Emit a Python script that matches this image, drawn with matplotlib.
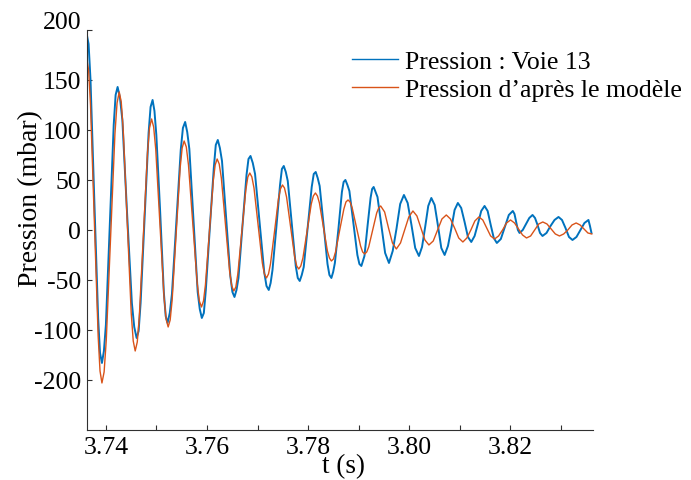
import matplotlib
matplotlib.use('Agg')
import matplotlib.pyplot as plt
from matplotlib.transforms import ScaledTranslation

t_voie = [
    3.73619,
    3.73657, 3.73695, 3.73770, 3.73846, 3.73883, 3.73921,
    3.73960, 3.73999, 3.74076, 3.74154, 3.74192, 3.74231,
    3.74278, 3.74325, 3.74419, 3.74513, 3.74560, 3.74607,
    3.74647, 3.74686, 3.74765, 3.74844, 3.74883, 3.74923,
    3.74960, 3.74997, 3.75071, 3.75145, 3.75182, 3.75219,
    3.75263, 3.75306, 3.75393, 3.75480, 3.75523, 3.75567,
    3.75608, 3.75650, 3.75732, 3.75815, 3.75856, 3.75897,
    3.75937, 3.75976, 3.76055, 3.76134, 3.76173, 3.76213,
    3.76254, 3.76296, 3.76378, 3.76461, 3.76502, 3.76543,
    3.76583, 3.76622, 3.76701, 3.76781, 3.76820, 3.76860,
    3.76905, 3.76950, 3.77040, 3.77131, 3.77176, 3.77221,
    3.77258, 3.77295, 3.77370, 3.77444, 3.77481, 3.77518,
    3.77558, 3.77597, 3.77676, 3.77755, 3.77795, 3.77834,
    3.77874, 3.77913, 3.77992, 3.78071, 3.78111, 3.78150,
    3.78189, 3.78228, 3.78305, 3.78383, 3.78421, 3.78460,
    3.78495, 3.78529, 3.78599, 3.78668, 3.78702, 3.78737,
    3.78777, 3.78816, 3.78895, 3.78974, 3.79014, 3.79053,
    3.79083, 3.79114, 3.79175, 3.79235, 3.79266, 3.79296,
    3.79372, 3.79448, 3.79523, 3.79599,
    3.79673, 3.79747, 3.79821, 3.79895,
    3.79969, 3.80044, 3.80118, 3.80192,
    3.80253, 3.80315, 3.80376, 3.80437,
    3.80503, 3.80569, 3.80634, 3.80700,
    3.80766, 3.80831, 3.80897, 3.80962,
    3.81028, 3.81095, 3.81161, 3.81227,
    3.81293, 3.81358, 3.81424, 3.81490,
    3.81551, 3.81612, 3.81672, 3.81733,
    3.81812, 3.81891, 3.81970, 3.82049,
    3.82082, 3.82116, 3.82149, 3.82182,
    3.82246, 3.82311, 3.82375, 3.82439,
    3.82488, 3.82538, 3.82587, 3.82636,
    3.82715, 3.82795, 3.82874, 3.82953,
    3.83022, 3.83091, 3.83160, 3.83229,
    3.83308, 3.83387, 3.83466, 3.83545,
    3.83575, 3.83605]
p_voie = [
    196,
    186, 150, 30, -88, -123, -133,
    -121, -95, 5, 105, 135, 143,
    132, 110, 16, -73, -97, -108,
    -101, -73, 11, 97, 123, 130,
    119, 95, 20, -62, -86, -93,
    -83, -64, 8, 80, 102, 108,
    98, 81, 10, -62, -79, -88,
    -83, -60, 2, 62, 85, 90,
    82, 69, 12, -46, -62, -67,
    -60, -48, 4, 55, 71, 74,
    67, 56, 7, -42, -56, -60,
    -53, -40, 2, 45, 61, 64,
    58, 49, 7, -36, -48, -51,
    -45, -37, 3, 43, 56, 58,
    52, 44, 5, -34, -45, -48,
    -42, -33, 1, 38, 48, 50,
    45, 39, 7, -25, -34, -36,
    -31, -26, 4, 32, 41, 43,
    33, 5, -23, -33,
    -21, 1, 26, 35,
    27, 5, -18, -26,
    -17, 3, 24, 32,
    25, 4, -18, -25,
    -16, 1, 20, 27,
    22, 8, -7, -12,
    -6, 6, 19, 24,
    19, 5, -8, -13,
    -9, 3, 15, 19,
    16, 8, 0, -3,
    0, 6, 12, 15,
    12, 5, -3, -6,
    -3, 4, 10, 13,
    10, 2, -7, -10,
    -7, 0, 7, 10,
    4, -3]

# Pression d'apres le modele
t_modele = [
    3.73619,
    3.73657, 3.73695, 3.73770, 3.73846, 3.73883, 3.73921,
    3.73964, 3.74007, 3.74092, 3.74178, 3.74220, 3.74263,
    3.74303, 3.74342, 3.74421, 3.74500, 3.74540, 3.74579,
    3.74620, 3.74660, 3.74741, 3.74822, 3.74862, 3.74903,
    3.74944, 3.74985, 3.75067, 3.75149, 3.75190, 3.75231,
    3.75271, 3.75310, 3.75389, 3.75468, 3.75508, 3.75547,
    3.75590, 3.75633, 3.75719, 3.75805, 3.75848, 3.75891,
    3.75930, 3.75968, 3.76046, 3.76123, 3.76161, 3.76200,
    3.76241, 3.76283, 3.76365, 3.76448, 3.76489, 3.76530,
    3.76570, 3.76609, 3.76688, 3.76767, 3.76807, 3.76846,
    3.76887, 3.76929, 3.77011, 3.77094, 3.77135, 3.77176,
    3.77216, 3.77255, 3.77334, 3.77413, 3.77452, 3.77492,
    3.77532, 3.77573, 3.77653, 3.77734, 3.77774, 3.77814,
    3.77855, 3.77897, 3.77979, 3.78062, 3.78103, 3.78144,
    3.78184, 3.78223, 3.78302, 3.78381, 3.78421, 3.78460,
    3.78501, 3.78542, 3.78625, 3.78707, 3.78748, 3.78789,
    3.78830, 3.78872, 3.78954, 3.79037, 3.79078, 3.79119,
    3.79159, 3.79198, 3.79277, 3.79356, 3.79396, 3.79435,
    3.79513, 3.79590, 3.79668, 3.79745,
    3.79827, 3.79909, 3.79991, 3.80073,
    3.80152, 3.80231, 3.80310, 3.80389,
    3.80475, 3.80561, 3.80647, 3.80733,
    3.80815, 3.80897, 3.80979, 3.81061,
    3.81140, 3.81219, 3.81298, 3.81378,
    3.81455, 3.81533, 3.81610, 3.81688,
    3.81767, 3.81846, 3.81925, 3.82004,
    3.82083, 3.82162, 3.82241, 3.82320,
    3.82401, 3.82481, 3.82562, 3.82642,
    3.82725, 3.82807, 3.82890, 3.82972,
    3.83055, 3.83137, 3.83220, 3.83302,
    3.83380, 3.83457, 3.83534, 3.83611]
p_modele = [
    172,
    160, 125, 10, -106, -141, -153,
    -142, -110, -8, 96, 127, 138,
    128, 100, 9, -83, -111, -121,
    -112, -87, -5, 77, 102, 111,
    103, 81, 7, -67, -89, -97,
    -90, -70, -4, 62, 82, 89,
    83, 65, 6, -53, -71, -77,
    -71, -55, -3, 49, 65, 71,
    66, 52, 5, -42, -56, -61,
    -57, -44, -2, 40, 53, 57,
    53, 42, 5, -33, -44, -48,
    -44, -34, -2, 31, 41, 45,
    42, 33, 3, -27, -36, -39,
    -36, -28, -1, 26, 34, 37,
    34, 27, 3, -21, -28, -31,
    -29, -22, 0, 21, 28, 30,
    28, 22, 3, -16, -22, -24,
    -22, -17, 0, 17, 22, 24,
    18, 2, -13, -19,
    -13, 0, 13, 19,
    14, 2, -10, -15,
    -11, 0, 11, 15,
    11, 2, -8, -12,
    -8, 0, 9, 13,
    10, 2, -6, -9,
    -6, 0, 7, 10,
    7, 1, -5, -8,
    -6, 0, 6, 8,
    6, 1, -4, -6,
    -4, 0, 5, 7,
    5, 1, -3, -4]

xticks = [3.74, 3.75, 3.76, 3.77, 3.78, 3.79, 3.80, 3.81, 3.82, 3.83]
xticklabels = ['3.74', '', '3.76', '', '3.78', '', '3.80', '', '3.82', '']
yticks = [-150, -100, -50, 0, 50, 100, 150, 200]
yticklabels = ['-200', '-100', '-50', '0', '50', '100', '150', '200']

plt.rcParams['font.family'] = ['Liberation Serif', 'DejaVu Serif']
fs = 18.5
axcol = '#303030'

fig = plt.figure(figsize=(6.91, 4.81), dpi=100)
ax = fig.add_axes([0.1255, 0.104, 0.7323, 0.8316])

ax.plot(t_voie, p_voie, color='#0072BD', lw=1.4, label='Pression : Voie 13')
ax.plot(t_modele, p_modele, color='#D95319', lw=1.0, label='Pression d\u2019après le modèle')

ax.set_xlim(3.7362, 3.8363)
ax.set_ylim(-200, 200)
ax.set_xticks(xticks)
ax.set_xticklabels(xticklabels)
ax.set_yticks(yticks)
ax.set_yticklabels(yticklabels)

for s in ['top', 'right']:
    ax.spines[s].set_visible(False)
for s in ['left', 'bottom']:
    ax.spines[s].set_color(axcol)
    ax.spines[s].set_linewidth(0.8)
ax.tick_params(direction='in', length=3.3, width=0.8, color=axcol,
               labelsize=fs, labelcolor='black', pad=4)

ax.set_xlabel('t (s)', fontsize=19.5)
ax.set_ylabel('Pression (mbar)', fontsize=20)
ax.xaxis.set_label_coords(0.508, -0.058)
ax.yaxis.set_label_coords(-0.086, 0.58)

# le label "200" est decale vers le haut sur l'original
top = ax.yaxis.get_major_ticks()[-1].label1
top.set_transform(top.get_transform() + ScaledTranslation(0, 10 / 100, fig.dpi_scale_trans))

leg = ax.legend(loc='upper left', bbox_to_anchor=(352 / 691, 1 - 51 / 481),
                bbox_transform=fig.transFigure, frameon=False, fontsize=fs,
                handlelength=1.8, handletextpad=0.25, borderpad=0, borderaxespad=0,
                labelspacing=0.2)
for l in leg.get_lines():
    l.set_linewidth(1.0)

fig.savefig('out.png', dpi=100)
